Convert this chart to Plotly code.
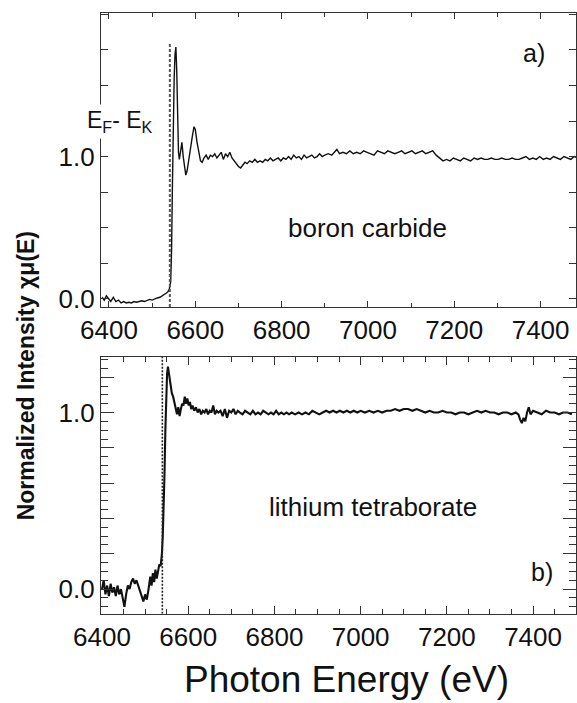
import plotly.graph_objects as go

# ---------------- data ----------------
# a) boron carbide
bc_energy = [
    6384, 6389, 6394, 6399, 6404, 6410, 6416, 6422, 6428, 6434,
    6440, 6446, 6452, 6458, 6464, 6470, 6476, 6482, 6488, 6494,
    6500, 6506, 6512, 6518, 6524, 6529, 6533, 6537, 6540, 6543,
    6545, 6547, 6549, 6551, 6553, 6555, 6557, 6559, 6561, 6563,
    6566, 6569, 6572, 6575, 6578, 6581, 6585, 6589, 6593, 6597,
    6600, 6604, 6608, 6612, 6616, 6620, 6625, 6630, 6635, 6640,
    6645, 6650, 6655, 6660, 6665, 6670, 6675, 6680, 6685, 6690,
    6695, 6700, 6705, 6710, 6715, 6720, 6726, 6732, 6738, 6744,
    6750, 6756, 6762, 6768, 6774, 6780, 6786, 6792, 6798, 6804,
    6810, 6816, 6822, 6828, 6834, 6840, 6846, 6852, 6858, 6864,
    6870, 6876, 6882, 6888, 6894, 6900, 6908, 6916, 6922, 6928,
    6934, 6942, 6950, 6958, 6966, 6974, 6982, 6990, 6998, 7006,
    7014, 7022, 7030, 7038, 7046, 7054, 7062, 7070, 7078, 7086,
    7094, 7102, 7110, 7118, 7126, 7134, 7142, 7150, 7158, 7166,
    7174, 7182, 7190, 7198, 7206, 7214, 7222, 7230, 7238, 7246,
    7254, 7262, 7270, 7278, 7286, 7294, 7302, 7310, 7318, 7326,
    7334, 7342, 7350, 7358, 7366, 7374, 7382, 7390, 7398, 7406,
    7414, 7422, 7430, 7438, 7446, 7454, 7462, 7470, 7478, 7486,
]
bc_intensity = [
    0.01, -0.01, 0.02, 0.00, -0.02, 0.01, -0.02, -0.01, -0.03, -0.02,
    -0.03, -0.025, -0.03, -0.02, -0.025, -0.02, -0.015, -0.02, -0.01, -0.005,
    -0.01, 0.0, 0.005, 0.01, 0.02, 0.03, 0.04, 0.05, 0.07, 0.12,
    0.35, 0.8, 1.25, 1.55, 1.72, 1.77, 1.6, 1.25, 1.03, 0.98,
    1.06, 1.1, 1.0, 0.91, 0.87, 0.9, 0.97, 1.06, 1.14, 1.21,
    1.19, 1.1, 1.02, 0.97, 0.96, 0.99, 1.01, 0.98, 1.01, 1.0,
    1.02, 0.99, 1.01, 1.03, 0.98, 1.02, 1.0, 1.03, 0.99, 0.97,
    0.95, 0.93, 0.92, 0.94, 0.96, 0.95, 0.97, 0.96, 0.98, 0.96,
    0.97, 0.96, 0.98, 0.97, 0.99, 0.97, 0.98, 0.99, 0.97, 0.99,
    0.98, 1.0, 0.98, 1.01, 0.99, 1.0, 0.98, 1.01, 0.99, 1.0,
    1.01, 0.99, 1.0, 1.02, 1.0, 1.01, 1.02, 1.01, 1.03, 1.05,
    1.02, 1.03, 1.02, 1.04, 1.02, 1.03, 1.02, 1.04, 1.03, 1.02,
    1.01, 1.04, 1.03, 1.02, 1.04, 1.03, 1.02, 1.03, 1.04, 1.02,
    1.03, 1.04, 1.02, 1.03, 1.04, 1.02, 1.03, 1.04, 1.01, 0.99,
    0.97, 0.98, 0.97, 0.99, 0.98, 0.97, 0.99, 0.98, 0.97, 0.99,
    0.98, 0.99, 0.98, 0.98, 0.99, 0.98, 0.98, 0.99, 0.98, 0.98,
    0.99, 0.98, 0.98, 0.99, 1.0, 0.98, 0.99, 0.98, 1.0, 0.98,
    0.99, 0.98, 1.0, 0.99, 0.98, 1.0, 0.99, 0.98, 1.0, 0.99,
]

# b) lithium tetraborate
lt_energy = [
    6400, 6404, 6408, 6412, 6416, 6420, 6424, 6428, 6432, 6436,
    6440, 6444, 6448, 6452, 6456, 6460, 6464, 6468, 6472, 6476,
    6480, 6484, 6488, 6492, 6496, 6500, 6504, 6508, 6512, 6515,
    6518, 6521, 6524, 6527, 6530, 6533, 6536, 6539, 6541, 6543,
    6545, 6547, 6549, 6551, 6553, 6555, 6557, 6559, 6562, 6565,
    6568, 6571, 6574, 6577, 6580, 6583, 6586, 6589, 6592, 6595,
    6598, 6601, 6604, 6607, 6610, 6614, 6618, 6622, 6626, 6630,
    6634, 6638, 6642, 6646, 6650, 6654, 6658, 6662, 6666, 6670,
    6675, 6680, 6685, 6690, 6695, 6700, 6705, 6710, 6715, 6720,
    6726, 6732, 6738, 6744, 6750, 6756, 6762, 6768, 6774, 6780,
    6786, 6792, 6798, 6804, 6810, 6816, 6822, 6828, 6834, 6840,
    6848, 6856, 6864, 6872, 6880, 6888, 6896, 6904, 6912, 6920,
    6928, 6936, 6944, 6952, 6960, 6968, 6976, 6984, 6992, 7000,
    7010, 7020, 7030, 7040, 7050, 7060, 7070, 7080, 7090, 7100,
    7110, 7120, 7130, 7140, 7150, 7160, 7170, 7180, 7190, 7200,
    7210, 7220, 7230, 7240, 7250, 7260, 7270, 7280, 7290, 7300,
    7310, 7320, 7330, 7340, 7350, 7360, 7366, 7370, 7374, 7378,
    7382, 7386, 7390, 7394, 7400, 7410, 7420, 7430, 7440, 7450,
    7460, 7470, 7480, 7490,
]
lt_intensity = [
    0.0, 0.05, -0.03, 0.02, -0.04, 0.03, -0.02, 0.01, -0.04, 0.02,
    -0.03, 0.0, -0.05, -0.1, -0.03, 0.02, 0.0, 0.04, 0.06, 0.03,
    0.05, 0.02, -0.02, -0.05, -0.07, -0.03, -0.06, 0.0, 0.07, 0.02,
    0.09, 0.04, 0.11, 0.06, 0.1, 0.14, 0.13, 0.2, 0.3, 0.45,
    0.65, 0.9, 1.12, 1.22, 1.26, 1.22, 1.18, 1.14, 1.11, 1.09,
    1.05, 1.02, 0.99, 1.03, 0.98, 1.02, 1.05, 1.04, 1.09, 1.05,
    1.08, 1.04, 1.06, 1.02, 1.04, 1.01, 1.03, 1.0, 1.02, 0.99,
    1.01, 1.0, 1.02, 0.99, 1.01, 1.0, 1.04, 0.99, 1.01, 1.0,
    1.01, 0.98, 1.02, 0.97, 1.01, 1.0, 1.02, 0.99, 1.01, 1.0,
    0.99, 1.01, 1.0, 0.99, 1.01, 0.99, 1.0, 0.99, 1.01, 1.0,
    0.99, 1.0, 0.99, 1.01, 0.99, 1.0, 0.99, 1.0, 0.99, 1.0,
    0.99, 1.0, 0.99, 1.0, 0.99, 1.01, 1.0, 0.99, 1.0, 1.01,
    1.0, 1.01, 1.0, 1.01, 1.0, 1.01, 1.0, 1.01, 1.0, 1.01,
    1.0, 1.01, 1.0, 1.01, 1.0, 1.01, 1.01, 1.02, 1.01, 1.02,
    1.02, 1.01, 1.02, 1.01, 1.0, 1.01, 1.0, 1.0, 1.01, 1.0,
    1.0, 0.99, 1.0, 1.0, 0.99, 1.0, 1.01, 1.0, 1.01, 1.0,
    1.0, 0.99, 1.0, 1.0, 0.99, 1.0, 0.99, 0.96, 0.94, 0.97,
    0.95, 1.0, 1.03, 0.99, 1.01, 1.0, 0.99, 1.01, 1.0, 1.0,
    0.99, 1.0, 1.0, 0.99,
]

# Fermi-level marker (E_F - E_K) in each panel
edge_top_energy = 6541
edge_top_span = [-0.058, 1.80]
edge_bottom_energy = 6540
edge_bottom_span = [-0.14, 1.314]

x_ticks = [6400, 6600, 6800, 7000, 7200, 7400]
x_tick_text = ["6400", "6600", "6800", "7000", "7200", "7400"]
y_labeled_ticks = [0.0, 1.0]
y_labeled_tick_text = ["0.0", "1.0"]
y_bottom_long_ticks = [0.2, 0.4, 0.6, 0.8, 1.2]

# ---------------- figure ----------------
FONT = "Liberation Sans, Arial, Helvetica, sans-serif"
W, H = 577, 703
L = 101
TOP_RANGE_X = [6381.5, 7482]
TOP_RANGE_Y = [-0.058, 2.013]
BOT_RANGE_X = [6397.7, 7499.6]
BOT_RANGE_Y = [-0.14, 1.314]

fig = go.Figure()

fig.add_trace(go.Scatter(x=bc_energy, y=bc_intensity, mode="lines",
                         line=dict(color="#111111", width=1.4),
                         xaxis="x", yaxis="y", showlegend=False, hoverinfo="skip"))
fig.add_trace(go.Scatter(x=[edge_top_energy, edge_top_energy], y=edge_top_span,
                         mode="lines", line=dict(color="#555555", width=2, dash="3px,2px"),
                         xaxis="x", yaxis="y", showlegend=False, hoverinfo="skip"))

fig.add_trace(go.Scatter(x=lt_energy, y=lt_intensity, mode="lines",
                         line=dict(color="#111111", width=2.1),
                         xaxis="x2", yaxis="y2", showlegend=False, hoverinfo="skip"))
fig.add_trace(go.Scatter(x=[edge_bottom_energy, edge_bottom_energy], y=edge_bottom_span,
                         mode="lines", line=dict(color="#222222", width=1.6, dash="2px,1.5px"),
                         xaxis="x2", yaxis="y2", showlegend=False, hoverinfo="skip"))

axis_common = dict(showline=True, linecolor="#333333", linewidth=1.3, mirror="ticks",
                   ticks="inside", tickcolor="#333333", tickwidth=1.2,
                   showgrid=False, zeroline=False,
                   tickfont=dict(family=FONT, size=26, color="#111111"))

fig.update_layout(
    width=W, height=H,
    margin=dict(l=L, r=0, t=0, b=0),
    paper_bgcolor="white", plot_bgcolor="white",
    xaxis=dict(domain=[0, 1], anchor="y", range=TOP_RANGE_X,
               tickmode="array", tickvals=x_ticks, ticktext=x_tick_text, ticklen=6,
               minor=dict(dtick=100, tick0=6400, ticklen=4, ticks="inside",
                          tickcolor="#333333", tickwidth=1.2),
               **axis_common),
    yaxis=dict(domain=[0.5590, 0.9819], anchor="x", range=TOP_RANGE_Y,
               tickmode="array", tickvals=y_labeled_ticks, ticktext=y_labeled_tick_text, ticklen=7,
               minor=dict(dtick=0.25, tick0=0, ticklen=7, ticks="inside",
                          tickcolor="#333333", tickwidth=1.2),
               **axis_common),
    xaxis2=dict(domain=[0, 1], anchor="y2", range=BOT_RANGE_X,
                tickmode="array", tickvals=x_ticks, ticktext=x_tick_text, ticklen=8,
                minor=dict(dtick=50, tick0=6400, ticklen=5, ticks="inside",
                           tickcolor="#333333", tickwidth=1.2),
                **axis_common),
    yaxis2=dict(domain=[0.1181, 0.4869], anchor="x2", range=BOT_RANGE_Y,
                tickmode="array", tickvals=y_labeled_ticks, ticktext=y_labeled_tick_text, ticklen=13,
                minor=dict(dtick=0.05, tick0=0, ticklen=7, ticks="inside",
                           tickcolor="#333333", tickwidth=1.2),
                **axis_common),
    # longer unlabeled ticks every 0.2 on the lower panel
    yaxis3=dict(overlaying="y2", anchor="x2", side="left", range=BOT_RANGE_Y,
                tickmode="array", tickvals=y_bottom_long_ticks, ticklen=13,
                showticklabels=False, showline=True, linecolor="#333333", linewidth=1.3,
                mirror="ticks", ticks="inside", tickcolor="#333333", tickwidth=1.2,
                showgrid=False, zeroline=False),
)
# dummy invisible trace so yaxis3 is rendered
fig.add_trace(go.Scatter(x=[BOT_RANGE_X[0]], y=[BOT_RANGE_Y[0]], mode="markers",
                         marker=dict(size=1, opacity=0), xaxis="x2", yaxis="y3",
                         showlegend=False, hoverinfo="skip"))

txt = dict(family=FONT, color="#111111")
annotations = [
    dict(x=7385, y=1.73, xref="x", yref="y", text="a)", showarrow=False,
         font=dict(size=25, **txt)),
    dict(x=6999, y=0.5, xref="x", yref="y", text="boron carbide", showarrow=False,
         font=dict(size=26, **txt)),
    dict(x=6426, y=1.25, xref="x", yref="y", text="E<sub>F</sub>- E<sub>K</sub>",
         showarrow=False, bgcolor="white", borderpad=2, font=dict(size=23, **txt)),
    dict(x=7028, y=0.466, xref="x2", yref="y2", text="lithium tetraborate", showarrow=False,
         font=dict(size=26, **txt)),
    dict(x=7421, y=0.095, xref="x2", yref="y2", text="b)", showarrow=False,
         font=dict(size=25, **txt)),
    dict(x=(347 - L) / (W - L), y=1 - 686 / H, xref="paper", yref="paper",
         text="Photon Energy (eV)", showarrow=False, xanchor="center", yanchor="middle",
         font=dict(size=37, **txt)),
    dict(x=(26 - L) / (W - L), y=1 - 380 / H, xref="paper", yref="paper",
         text="<b>Normalized Intensity χμ(E)</b>", showarrow=False, textangle=-90,
         xanchor="center", yanchor="middle", font=dict(size=23, **txt)),
]
fig.update_layout(annotations=annotations)

fig.write_html("out.html")
